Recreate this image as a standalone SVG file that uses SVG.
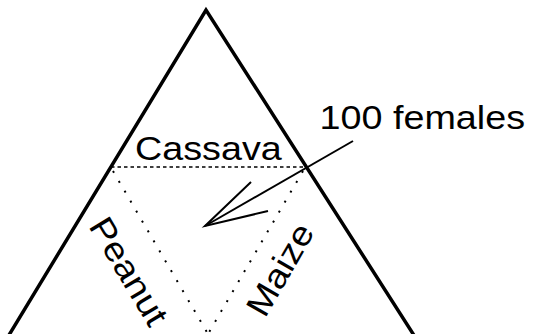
<svg xmlns="http://www.w3.org/2000/svg" width="534" height="334" viewBox="0 0 534 334">
<style>
.lbl{font-family:"Liberation Sans",Arial,sans-serif;font-size:34px;fill:#000}
.tri{fill:none;stroke:#000;stroke-width:3.5;stroke-linejoin:miter}
.dash{fill:none;stroke:#000;stroke-width:1.5;stroke-dasharray:3.5 3}
.dot{fill:none;stroke:#000;stroke-width:2;stroke-dasharray:2 9.5}
.arr{fill:none;stroke:#000;stroke-width:2;stroke-linecap:butt}
</style>
<rect width="534" height="334" fill="#fff"/>
<g id="triangle">
<polyline class="tri" points="6,340 206,10 417,340"/>
</g>
<g id="inner">
<line class="dash" x1="111" y1="167" x2="307" y2="167"/>
<line class="dot" x1="113" y1="171" x2="208" y2="334"/>
<line class="dot" x1="303" y1="171" x2="208" y2="334"/>
</g>
<g id="cassava"><text class="lbl" transform="translate(135,160) scale(1.11,1)">Cassava</text></g>
<g id="peanut"><text class="lbl" transform="translate(88,226) rotate(59) scale(1.11,1)">Peanut</text></g>
<g id="maize"><text class="lbl" transform="translate(265,319) rotate(-60) scale(1.11,1)">Maize</text></g>
<g id="label"><text class="lbl" transform="translate(319.5,129) scale(1.11,1)">100 females</text></g>
<g id="connectors">
<line class="arr" x1="353" y1="141" x2="205" y2="226"/>
<polyline class="arr" points="251,182 205,226 268,211"/>
</g>
</svg>
